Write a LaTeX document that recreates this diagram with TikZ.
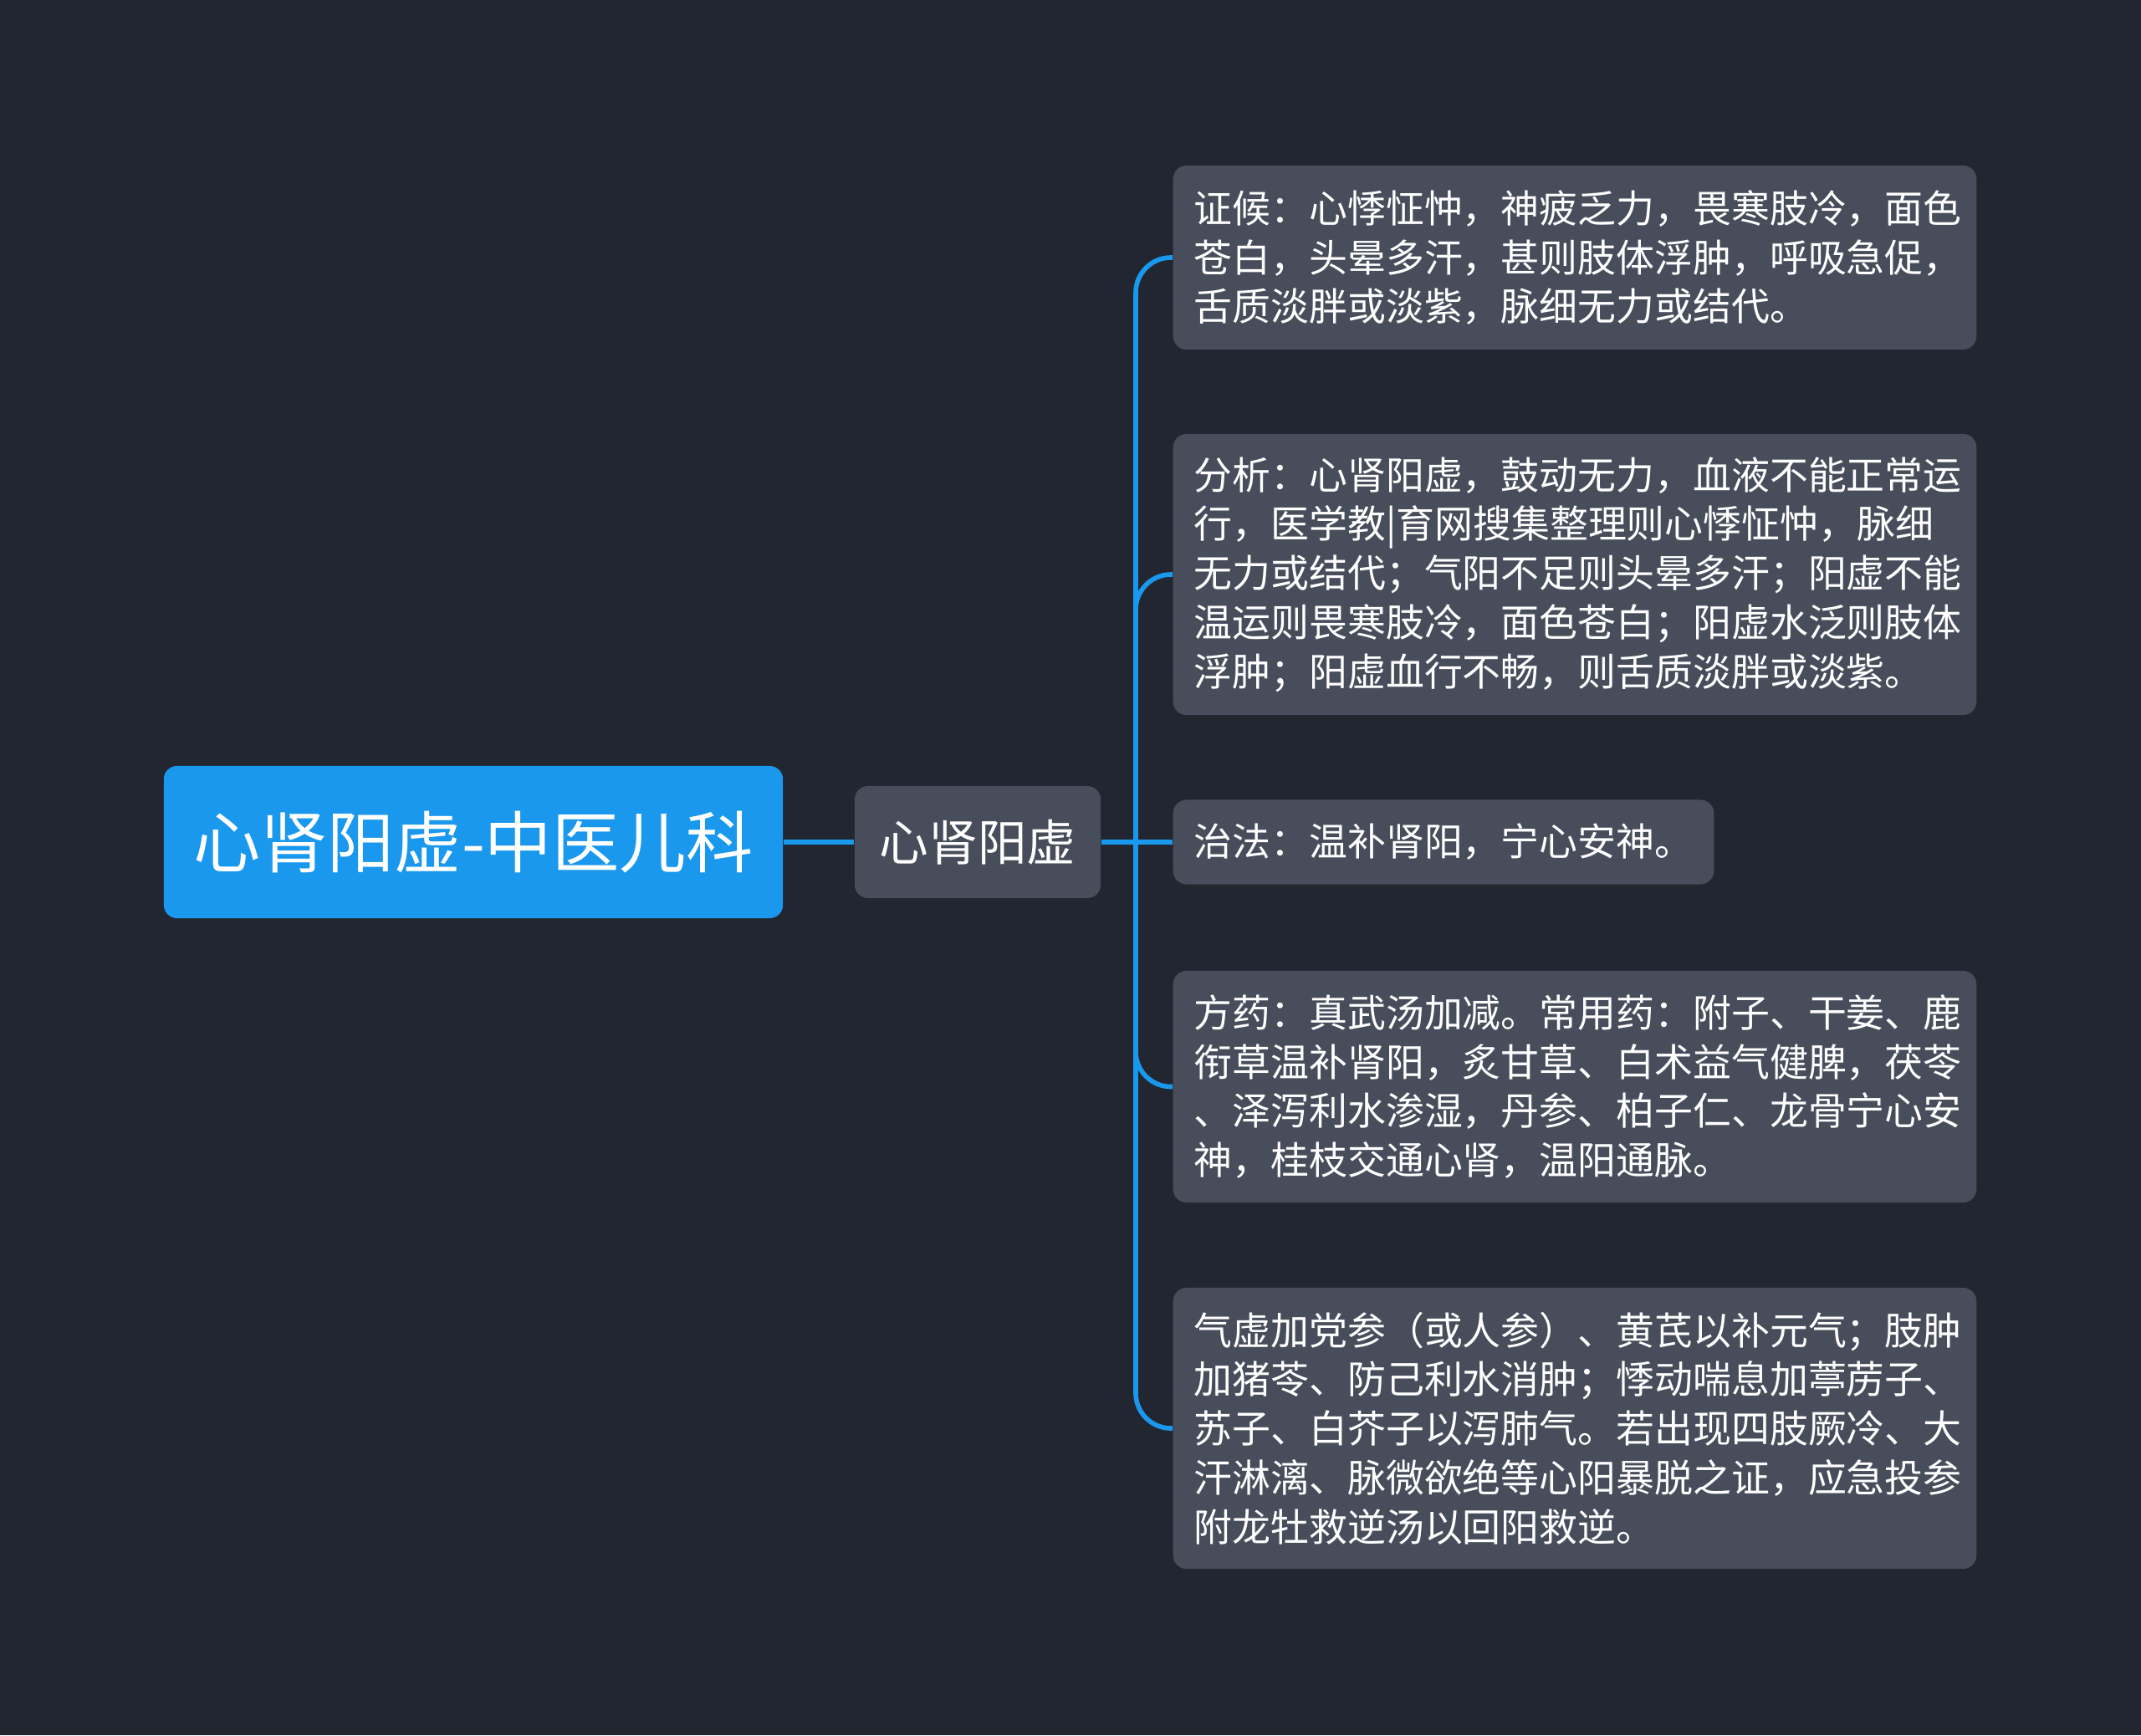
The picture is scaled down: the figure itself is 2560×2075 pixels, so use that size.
\documentclass[tikz,border=0pt]{standalone}
\usepackage{fontspec}
\newfontfamily\cjk{Noto Sans CJK SC}
\definecolor{bgc}{HTML}{222631}
\definecolor{boxc}{HTML}{474D5B}
\definecolor{bluec}{HTML}{1A98EE}
\begin{document}
\begin{tikzpicture}[x=0.01cm,y=-0.01cm,
  leaf/.style={draw=none,fill=boxc,rounded corners=0.16cm,anchor=west,text=white,
    font=\cjk\fontsize{13.05pt}{16.7pt}\selectfont,align=left,inner xsep=0.25cm,inner ysep=0pt},
  link/.style={draw=bluec,line width=1.6pt},
  curvelink/.style={link,rounded corners=0.42cm}]
\fill[bgc] (0,0) rectangle (2560,2075);
\useasboundingbox (0,0) rectangle (2560,2075);
\node[fill=bluec,rounded corners=0.16cm,text=white,font=\cjk\fontsize{22.8pt}{26pt}\selectfont,
  minimum width=7.4cm,minimum height=1.82cm,inner sep=0pt] (root) at (566,1007) {心肾阳虚-中医儿科};
\node[fill=boxc,rounded corners=0.16cm,text=white,font=\cjk\fontsize{16.7pt}{20pt}\selectfont,
  minimum width=2.94cm,minimum height=1.34cm,inner sep=0pt] (mid) at (1169,1007) {心肾阳虚};
\node[leaf,minimum height=2.2cm,text width=9.1cm] (l1) at (1402,308) {证候：心悸怔忡，神疲乏力，畏寒肢冷，面色\\苍白，头晕多汗，甚则肢体浮肿，呼吸急促，\\舌质淡胖或淡紫，脉细无力或结代。};
\node[leaf,minimum height=3.36cm,text width=9.1cm] (l2) at (1402,687) {分析：心肾阳虚，鼓动无力，血液不能正常运\\行，医学教|育网搜集整理则心悸怔忡，脉细\\无力或结代；气阳不足则头晕多汗；阳虚不能\\温运则畏寒肢冷，面色苍白；阳虚水泛则肢体\\浮肿；阳虚血行不畅，则舌质淡胖或淡紫。};
\node[leaf,minimum height=1.01cm,minimum width=6.39cm] (l3) at (1402,1007) {治法：温补肾阳，宁心安神。};
\node[leaf,minimum height=2.77cm,text width=9.1cm] (l4) at (1402,1299.5) {方药：真武汤加减。常用药：附子、干姜、鹿\\衔草温补肾阳，炙甘草、白术益气健脾，茯苓\\、泽泻利水渗湿，丹参、柏子仁、龙骨宁心安\\神，桂枝交通心肾，温阳通脉。};
\node[leaf,minimum height=3.36cm,text width=9.1cm] (l5) at (1402,1708) {气虚加党参（或人参）、黄芪以补元气；肢肿\\加猪苓、防己利水消肿；悸动喘息加葶苈子、\\苏子、白芥子以泻肺气。若出现四肢厥冷、大\\汗淋漓、脉微欲绝等心阳暴脱之证，应急投参\\附龙牡救逆汤以回阳救逆。};
\coordinate (j) at (1358,1007);
\draw[link] (root.east) -- (mid.west);
\draw[link] (mid.east) -- (l3.west);
\draw[curvelink] (j) |- (l1.west);
\draw[curvelink] (j) |- (l2.west);
\draw[curvelink] (j) |- (l4.west);
\draw[curvelink] (j) |- (l5.west);
\end{tikzpicture}
\end{document}
